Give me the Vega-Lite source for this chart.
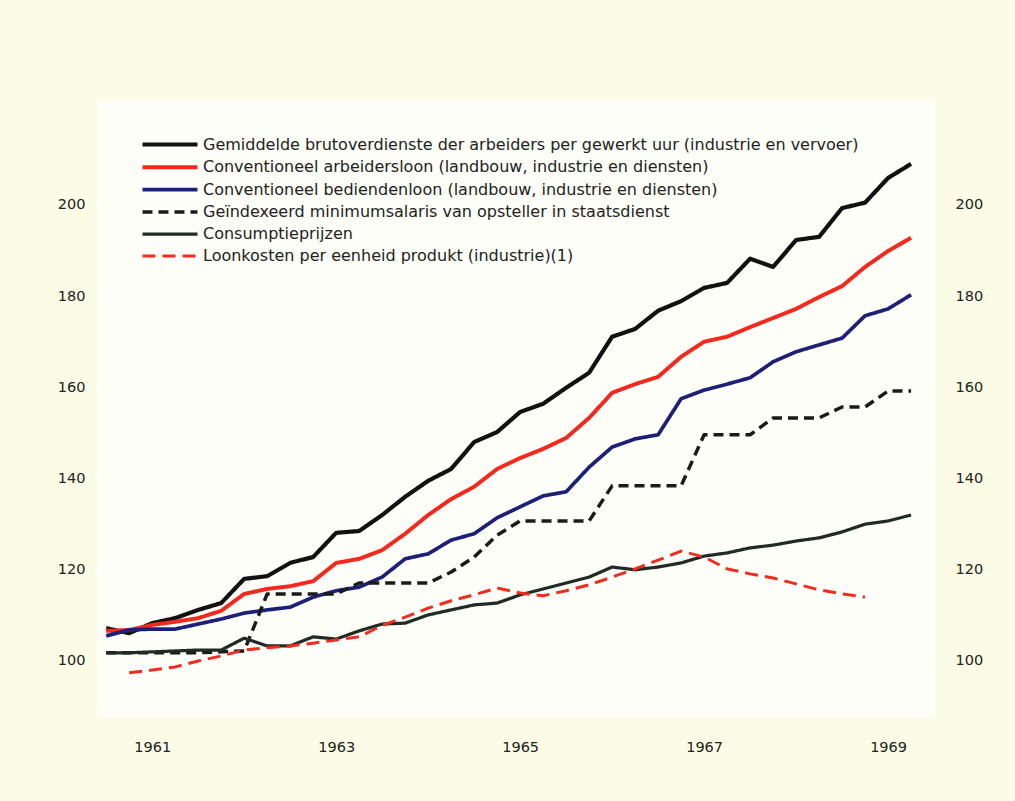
{
  "$schema": "https://vega.github.io/schema/vega-lite/v6.json",
  "width": 838,
  "height": 618,
  "autosize": {"type": "none"},
  "padding": {"left": 97, "top": 100, "right": 80, "bottom": 83},
  "background": "#fcfbe6",
  "config": {
    "view": {"fill": "#fefef8", "stroke": null},
    "axis": {"domain": false, "ticks": false, "grid": false, "labelFont": "DejaVu Sans", "labelFontSize": 14.5, "labelColor": "#222222", "title": null},
    "legend": {"orient": "none", "legendX": 43, "legendY": 32, "padding": 0, "title": null, "symbolType": "M-1,0H4.5", "symbolSize": 400, "labelOffset": 38, "labelFont": "DejaVu Sans", "labelFontSize": 16, "labelColor": "#222222", "labelLimit": 900, "rowPadding": 2.3}
  },
  "data": {"values": [
    {"t":1960.5,"g":107.2,"ca":106.6,"cb":105.5,"mi":101.8,"cp":101.8,"lk":null},
    {"t":1960.75,"g":106.1,"ca":106.8,"cb":106.8,"mi":101.8,"cp":101.8,"lk":97.4},
    {"t":1961.0,"g":108.3,"ca":107.9,"cb":107.0,"mi":101.8,"cp":102.0,"lk":98.0},
    {"t":1961.25,"g":109.4,"ca":108.6,"cb":107.0,"mi":101.8,"cp":102.2,"lk":98.7},
    {"t":1961.5,"g":111.2,"ca":109.4,"cb":108.1,"mi":101.8,"cp":102.4,"lk":100.0},
    {"t":1961.75,"g":112.7,"ca":111.0,"cb":109.2,"mi":102.0,"cp":102.4,"lk":101.1},
    {"t":1962.0,"g":118.0,"ca":114.7,"cb":110.5,"mi":102.2,"cp":105.0,"lk":102.4},
    {"t":1962.25,"g":118.6,"ca":115.8,"cb":111.2,"mi":114.7,"cp":103.3,"lk":102.9},
    {"t":1962.5,"g":121.5,"ca":116.4,"cb":111.8,"mi":114.7,"cp":103.3,"lk":103.3},
    {"t":1962.75,"g":122.8,"ca":117.5,"cb":114.0,"mi":114.7,"cp":105.3,"lk":103.9},
    {"t":1963.0,"g":128.1,"ca":121.5,"cb":115.4,"mi":114.7,"cp":104.8,"lk":104.6},
    {"t":1963.25,"g":128.5,"ca":122.4,"cb":116.2,"mi":117.1,"cp":106.6,"lk":105.3},
    {"t":1963.5,"g":132.0,"ca":124.3,"cb":118.4,"mi":117.1,"cp":108.1,"lk":107.8},
    {"t":1963.75,"g":136.0,"ca":127.9,"cb":122.4,"mi":117.1,"cp":108.3,"lk":109.6},
    {"t":1964.0,"g":139.5,"ca":132.0,"cb":123.5,"mi":117.1,"cp":110.1,"lk":111.6},
    {"t":1964.25,"g":142.1,"ca":135.5,"cb":126.5,"mi":119.5,"cp":111.2,"lk":113.2},
    {"t":1964.5,"g":148.0,"ca":138.2,"cb":127.9,"mi":122.8,"cp":112.3,"lk":114.5},
    {"t":1964.75,"g":150.2,"ca":142.1,"cb":131.4,"mi":127.6,"cp":112.7,"lk":116.0},
    {"t":1965.0,"g":154.6,"ca":144.5,"cb":133.8,"mi":130.7,"cp":114.5,"lk":114.9},
    {"t":1965.25,"g":156.4,"ca":146.5,"cb":136.2,"mi":130.7,"cp":115.8,"lk":114.3},
    {"t":1965.5,"g":159.9,"ca":148.9,"cb":137.1,"mi":130.7,"cp":117.1,"lk":115.4},
    {"t":1965.75,"g":163.2,"ca":153.3,"cb":142.5,"mi":130.7,"cp":118.4,"lk":116.7},
    {"t":1966.0,"g":171.1,"ca":158.8,"cb":146.9,"mi":138.4,"cp":120.6,"lk":118.4},
    {"t":1966.25,"g":172.8,"ca":160.7,"cb":148.7,"mi":138.4,"cp":120.0,"lk":120.2},
    {"t":1966.5,"g":176.8,"ca":162.3,"cb":149.6,"mi":138.4,"cp":120.6,"lk":122.1},
    {"t":1966.75,"g":178.9,"ca":166.7,"cb":157.5,"mi":138.4,"cp":121.5,"lk":124.1},
    {"t":1967.0,"g":181.8,"ca":170.0,"cb":159.4,"mi":149.6,"cp":123.0,"lk":122.8},
    {"t":1967.25,"g":182.9,"ca":171.1,"cb":160.7,"mi":149.6,"cp":123.7,"lk":120.2},
    {"t":1967.5,"g":188.2,"ca":173.2,"cb":162.1,"mi":149.6,"cp":124.8,"lk":119.1},
    {"t":1967.75,"g":186.4,"ca":175.2,"cb":165.6,"mi":153.3,"cp":125.4,"lk":118.2},
    {"t":1968.0,"g":192.3,"ca":177.2,"cb":167.8,"mi":153.3,"cp":126.3,"lk":116.9},
    {"t":1968.25,"g":193.0,"ca":179.8,"cb":169.3,"mi":153.3,"cp":127.0,"lk":115.6},
    {"t":1968.5,"g":199.3,"ca":182.2,"cb":170.8,"mi":155.7,"cp":128.3,"lk":114.7},
    {"t":1968.75,"g":200.5,"ca":186.4,"cb":175.7,"mi":155.7,"cp":130.0,"lk":114.0},
    {"t":1969.0,"g":205.9,"ca":189.9,"cb":177.2,"mi":159.2,"cp":130.7,"lk":null},
    {"t":1969.25,"g":209.0,"ca":192.8,"cb":180.3,"mi":159.2,"cp":132.0,"lk":null}
  ]},
  "transform": [{"fold": ["g", "ca", "cb", "mi", "cp", "lk"], "as": ["s", "v"]}],
  "layer": [
    {
      "mark": {"type": "line", "strokeJoin": "round"},
      "encoding": {
        "x": {"field": "t", "type": "quantitative", "scale": {"domain": [1960.4, 1969.51], "nice": false, "zero": false}, "axis": {"values": [1961, 1963, 1965, 1967, 1969], "format": "d", "labelPadding": 22}},
        "y": {"field": "v", "type": "quantitative", "scale": {"domain": [87.5, 223], "nice": false, "zero": false}, "axis": {"orient": "left", "values": [100, 120, 140, 160, 180, 200], "labelPadding": 12}},
        "color": {"field": "s", "type": "nominal", "scale": {"domain": ["g", "ca", "cb", "mi", "cp", "lk"], "range": ["#111111", "#f4281c", "#1d2079", "#1a1a1a", "#1f2b24", "#f22b1d"]},
          "legend": {"labelExpr": "{'g':'Gemiddelde brutoverdienste der arbeiders per gewerkt uur (industrie en vervoer)','ca':'Conventioneel arbeidersloon (landbouw, industrie en diensten)','cb':'Conventioneel bediendenloon (landbouw, industrie en diensten)','mi':'Geïndexeerd minimumsalaris van opsteller in staatsdienst','cp':'Consumptieprijzen','lk':'Loonkosten per eenheid produkt (industrie)(1)'}[datum.label]"}},
        "strokeDash": {"field": "s", "type": "nominal", "scale": {"domain": ["g", "ca", "cb", "mi", "cp", "lk"], "range": [[1, 0], [1, 0], [1, 0], [10, 6], [1, 0], [13, 7]]},
          "legend": {"labelExpr": "{'g':'Gemiddelde brutoverdienste der arbeiders per gewerkt uur (industrie en vervoer)','ca':'Conventioneel arbeidersloon (landbouw, industrie en diensten)','cb':'Conventioneel bediendenloon (landbouw, industrie en diensten)','mi':'Geïndexeerd minimumsalaris van opsteller in staatsdienst','cp':'Consumptieprijzen','lk':'Loonkosten per eenheid produkt (industrie)(1)'}[datum.label]"}},
        "strokeWidth": {"field": "s", "type": "nominal", "scale": {"domain": ["g", "ca", "cb", "mi", "cp", "lk"], "range": [4.2, 3, 3, 2.5, 2, 3.5]},
          "legend": {"labelExpr": "{'g':'Gemiddelde brutoverdienste der arbeiders per gewerkt uur (industrie en vervoer)','ca':'Conventioneel arbeidersloon (landbouw, industrie en diensten)','cb':'Conventioneel bediendenloon (landbouw, industrie en diensten)','mi':'Geïndexeerd minimumsalaris van opsteller in staatsdienst','cp':'Consumptieprijzen','lk':'Loonkosten per eenheid produkt (industrie)(1)'}[datum.label]"}}
      }
    },
    {
      "mark": {"type": "line", "opacity": 0},
      "encoding": {
        "x": {"field": "t", "type": "quantitative"},
        "y": {"field": "v", "type": "quantitative", "axis": {"orient": "right", "values": [100, 120, 140, 160, 180, 200], "labelPadding": 20}}
      }
    }
  ],
  "resolve": {"axis": {"y": "independent"}}
}
